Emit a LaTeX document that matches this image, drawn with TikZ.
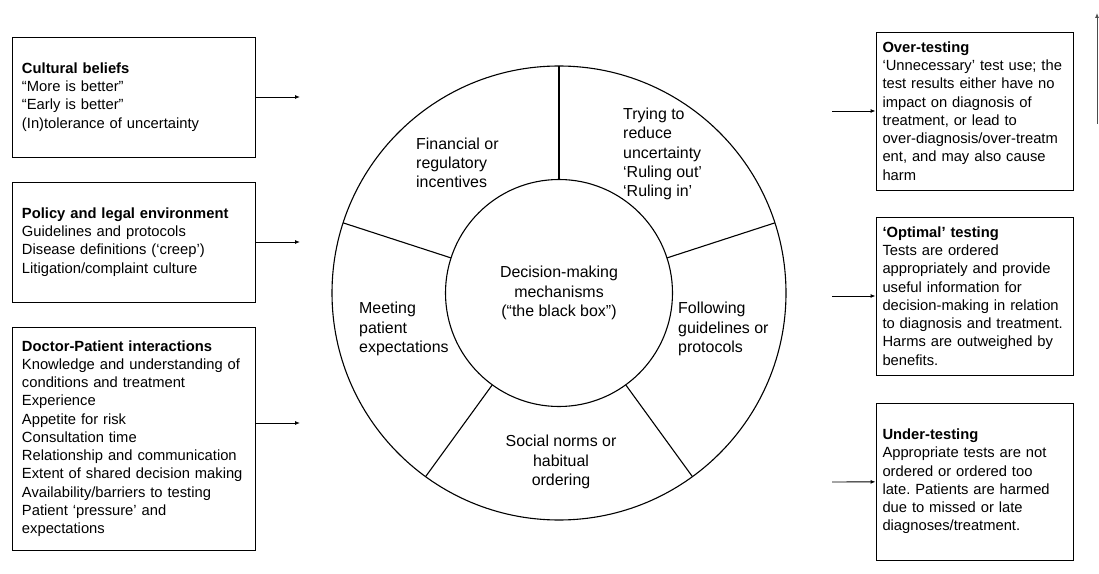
\documentclass[tikz,border=0pt]{standalone}
\usepackage{fontspec}
\setmainfont{Liberation Sans}
\usetikzlibrary{arrows.meta}
\frenchspacing
\tikzset{
	factor/.style = {draw, line width = 0.9bp, align = left, text width = 223bp, inner xsep = 10bp, inner ysep = 0pt, font = \fontsize{14.8}{18.3}\selectfont, execute at begin node = {\hyphenpenalty = 10000 \exhyphenpenalty = 10000}},
	outcome/.style = {factor, text width = 184bp, inner xsep = 6.5bp},
	wedge/.style = {align = left, inner sep = 0pt, font = \fontsize{16}{19.3}\selectfont},
	disc/.style = {circle, draw, line width = 1.1bp, inner sep = 0pt, outer sep = 0pt},
	arr/.style = {-{Latex[length = 5bp, width = 4bp]}, line width = 0.9bp}
}
\begin{document}
\begin{tikzpicture}[x = 1bp, y = -1bp]
		\useasboundingbox (0, 0) rectangle (1099, 574);
		% the wheel
		\node[disc, minimum size = 454bp] (ring) at (559, 293) {};
		\node[disc, minimum size = 227bp, wedge, align = center] (hub) at (559, 293) {Decision-making\\mechanisms\\(“the black box”)};
		\foreach \a in {18, 90, 162, 234, 306}{ \draw[line width = 1.1bp] (hub.\a) -- (ring.\a); }
		\node[wedge, anchor = west] (fin) at (416, 163) {Financial or\\regulatory\\incentives};
		\node[wedge, anchor = west] (trying) at (623, 154) {Trying to\\reduce\\uncertainty\\‘Ruling out’\\‘Ruling in’};
		\node[wedge, anchor = west] (meeting) at (359, 329) {Meeting\\patient\\expectations};
		\node[wedge, anchor = west] (follow) at (678, 329) {Following\\guidelines or\\protocols};
		\node[wedge, align = center] (social) at (561, 462) {Social norms or\\habitual\\ordering};
		% drivers on the left
		\node[factor, minimum height = 120bp] (cult) at (133.5, 97) {\textbf{Cultural beliefs}\\“More is better”\\“Early is better”\\(In)tolerance of uncertainty};
		\node[factor, minimum height = 120bp] (policy) at (133.5, 242) {\textbf{Policy and legal environment}\\Guidelines and protocols\\Disease definitions (‘creep’)\\Litigation/complaint culture};
		\node[factor, minimum height = 223bp] (doctor) at (133.5, 438.5) {\textbf{Doctor-Patient interactions}\\Knowledge and understanding of\\conditions and treatment\\Experience\\Appetite for risk\\Consultation time\\Relationship and communication\\Extent of shared decision making\\Availability/barriers to testing\\Patient ‘pressure’ and\\expectations};
		% outcomes on the right
		\node[outcome, minimum height = 158bp] (over) at (974.5, 111) {\textbf{Over-testing}\\‘Unnecessary’ test use; the\\test results either have no\\impact on diagnosis of\\treatment, or lead to\\over-diagnosis/over-treatm\\ent, and may also cause\\harm};
		\node[outcome, minimum height = 158bp] (optimal) at (974.5, 296) {\textbf{‘Optimal’ testing}\\Tests are ordered\\appropriately and provide\\useful information for\\decision-making in relation\\to diagnosis and treatment.\\Harms are outweighed by\\benefits.};
		\node[outcome, minimum height = 157bp] (under) at (974.5, 481.5) {\textbf{Under-testing}\\Appropriate tests are not\\ordered or ordered too\\late. Patients are harmed\\due to missed or late\\diagnoses/treatment.};
		% loose arrow ends
		\coordinate (cultTo) at (300, 97);
		\coordinate (policyTo) at (300, 242);
		\coordinate (doctorTo) at (300, 423);
		\coordinate (overFrom) at (832, 111);
		\coordinate (optimalFrom) at (832, 296);
		\coordinate (underFrom) at (832, 482);
		\coordinate (axisLow) at (1097, 124);
		\coordinate (axisHigh) at (1097, 13);
		\draw[arr] (cult) -- (cultTo);
		\draw[arr] (policy) -- (policyTo);
		\draw[arr] (doctor.east |- doctorTo) -- (doctorTo);
		\draw[arr] (overFrom) -- (over);
		\draw[arr] (optimalFrom) -- (optimal);
		\draw[arr] (underFrom) -- (under);
		\draw[arr, black!70] (axisLow) -- (axisHigh);
	\end{tikzpicture}
\end{document}
